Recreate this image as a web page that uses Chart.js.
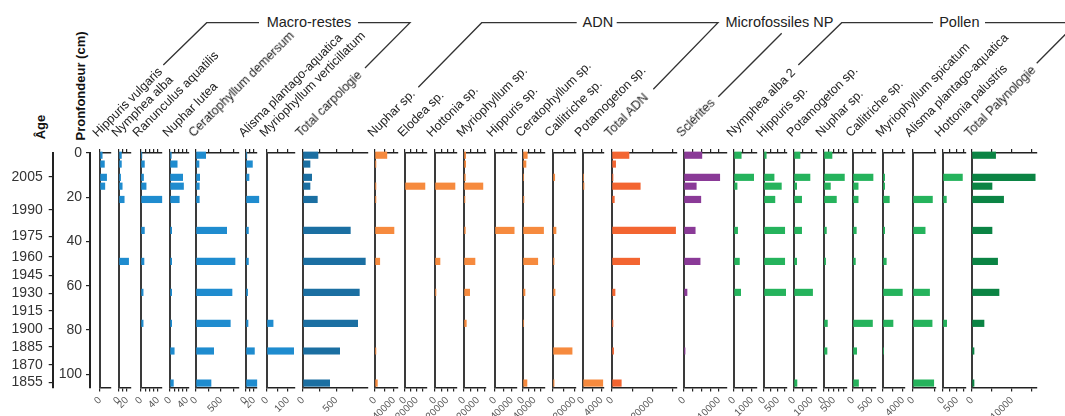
<!DOCTYPE html>
<html>
<head>
<meta charset="utf-8">
<script src="https://cdn.jsdelivr.net/npm/chart.js@4.4.0/dist/chart.umd.min.js"></script>
<style>
  body { margin: 0; background: #fff; }
  #wrap { position: relative; width: 1065px; height: 416px; overflow: hidden; background: #fff;
          font-family: 'Liberation Sans', Arial, sans-serif; color: #222; }
  #wrap canvas { position: absolute; }
  .taxon { position: absolute; font-size: 12.5px; line-height: 12px; white-space: nowrap;
           transform-origin: 0 100%; transform: rotate(-45deg); color: #222; }
  .axname { position: absolute; font-weight: bold; font-size: 13px; line-height: 14px; white-space: nowrap;
            transform: translate(-50%, -50%) rotate(-90deg); color: #111; }
  #brackets { position: absolute; left: 0; top: 0; }
</style>
</head>
<body>
<div id="wrap">
  <svg id="brackets" width="1065" height="416"></svg>
  <div class="axname" style="left:41px;top:127px">Âge</div>
  <div class="axname" style="left:81px;top:86px">Pronfondeur (cm)</div>
</div>
<script>
// sample depths (cm) shared by every panel
const depths = [1, 5, 11, 15, 21, 35, 49, 63, 77, 89.5, 104];
const depthTicks = [0, 20, 40, 60, 80, 100];
const ageLabels = ['2005', '1990', '1975', '1960', '1945', '1930', '1915', '1900', '1885', '1870', '1855'];
const ageDepths = [10.7, 25.8, 37.8, 46.9, 55.2, 63.4, 71.3, 79.6, 87.6, 95.7, 103.7];

// Macro-restes
const macroTaxa = ['Hippuris vulgaris', 'Nymphea alba', 'Ranunculus aquatilis', 'Nuphar lutea',
  'Ceratophyllum demersum', 'Alisma plantago-aquatica', 'Myriophyllum verticillatum', 'Total carpologie'];
const macroValues = [
  [1, 2, 3, 2.2, 0, 0, 0, 0, 0, 0, 0],
  [6, 6, 4, 8, 13, 0, 24, 0, 0, 0, 0],
  [2, 8, 6, 12, 49, 8, 7, 5, 5, 0, 0],
  [3, 17, 30, 32, 22, 4, 4, 4, 4, 10, 8],
  [194, 60, 74, 66, 66, 614, 780, 720, 686, 354, 300],
  [2, 16, 7.5, 0, 32, 6, 6, 4, 5, 21, 27],
  [0, 0, 0, 0, 0, 0, 0, 0, 29, 127, 0],
  [225, 105, 130, 105, 215, 710, 935, 845, 820, 550, 400]
];
const macroMax = [5, 28.5, 49.4, 45, 846, 26.7, 132, 975];
const macroStep = [10, 10, 10, 10, 250, 10, 50, 250];
const macroLabeled = [[0], [0, 20], [0, 40], [0, 40], [0, 500], [0, 20], [0, 100], [0, 500]];

// ADN
const adnTaxa = ['Nuphar sp.', 'Elodea sp.', 'Hottonia sp.', 'Myriophyllum sp.', 'Hippuris sp.',
  'Ceratophyllum sp.', 'Callitriche sp.', 'Potamogeton sp.', 'Total ADN'];
const adnValues = [
  [25000, 2000, 0, 2000, 2000, 40000, 10000, 0, 0, 2000, 5000],
  [0, 0, 0, 34000, 0, 0, 0, 0, 0, 0, 0],
  [0, 0, 0, 32500, 0, 0, 8100, 1600, 0, 0, 0],
  [2400, 2400, 1900, 27000, 1400, 1900, 15700, 8100, 3300, 0, 0],
  [0, 0, 0, 0, 0, 45500, 0, 0, 0, 0, 0],
  [14700, 10300, 2400, 0, 3400, 71000, 51000, 6900, 2400, 0, 13700],
  [0, 0, 1600, 0, 0, 2800, 1000, 1900, 0, 17800, 1000],
  [0, 0, 150, 220, 0, 0, 0, 0, 0, 0, 4300],
  [8400, 1800, 500, 14000, 1150, 31500, 13700, 1500, 500, 800, 4600]
];
const adnMax = [47000, 37000, 35300, 31000, 51000, 76000, 20800, 4560, 31900];
const adnStep = [20000, 10000, 10000, 10000, 20000, 20000, 10000, 2000, 10000];
const adnLabeled = [[0, 40000], [0, 20000], [0, 20000], [0, 20000], [0, 40000], [0, 40000], [0, 20000], [0, 4000], [0, 20000]];

// Microfossiles NP
const npTaxa = ['Sclérites'];
const npValues = [[5100, 0, 10200, 3500, 4800, 3200, 4600, 860, 0, 300, 0]];
const npMax = [12100];
const npStep = [2500];
const npLabeled = [[0, 10000]];

// Pollen
const pollenTaxa = ['Nymphea alba 2', 'Hippuris sp.', 'Potamogeton sp.', 'Nuphar sp.', 'Callitriche sp.',
  'Myriophyllum spicatum', 'Alisma plantago-aquatica', 'Hottonia palustris', 'Total Palynologie'];
const pollenValues = [
  [400, 0, 1090, 170, 0, 200, 300, 370, 0, 0, 0],
  [80, 0, 360, 620, 390, 740, 740, 775, 0, 0, 0],
  [345, 0, 920, 155, 440, 440, 155, 1070, 0, 0, 170],
  [400, 0, 1020, 320, 620, 120, 80, 0, 170, 150, 0],
  [0, 0, 545, 140, 140, 90, 65, 0, 530, 100, 150],
  [0, 0, 340, 340, 1270, 340, 660, 3870, 2000, 130, 0],
  [0, 0, 0, 0, 880, 550, 0, 750, 865, 0, 940],
  [0, 0, 690, 0, 120, 0, 0, 0, 130, 0, 0],
  [5900, 0, 15800, 5000, 7900, 5000, 6400, 6750, 3000, 500, 500]
];
const pollenMax = [1240, 800, 1290, 1110, 610, 4340, 1010, 800, 16100];
const pollenStep = [500, 250, 500, 250, 250, 2000, 1000, 250, 5000];
const pollenLabeled = [[0, 1000], [0, 500], [0, 1000], [0, 500], [0, 500], [0, 4000], [0], [0, 500], [0, 10000]];

// layout: left edge (px) and width (px) of each panel, in page order
const panelLeft = [100, 119.3, 140.7, 170.3, 196, 246, 267.3, 303.3,
  375, 405, 434.7, 464.3, 494.5, 523.3, 552.7, 582.5, 612.3,
  684.3,
  734.3, 764.3, 794, 823.5, 853.3, 883.3, 912.7, 942.5, 972.3];
const panelWidth = [11, 11.4, 21, 19, 42.3, 10.7, 27.7, 65,
  22.3, 21.7, 21.7, 21.7, 21.5, 22, 22.3, 21, 64.4,
  42.4,
  22.4, 22.4, 22.4, 22.2, 22.4, 21.7, 22.3, 22.5, 64.4];

const FONT = "'Liberation Sans', Arial, sans-serif";
Chart.defaults.font.family = FONT;
const wrap = document.getElementById('wrap');
const TOP = 130, H = 286, PAD = 30, DMAX = 106;

function addCanvas(left, width) {
  const cv = document.createElement('canvas');
  cv.width = width; cv.height = H;
  cv.style.left = left + 'px'; cv.style.top = TOP + 'px';
  cv.style.width = width + 'px'; cv.style.height = H + 'px';
  wrap.appendChild(cv);
  return cv;
}

function panel(name, vals, max, step, labeled, color, x0, w) {
  const cv = addCanvas(x0 - PAD, Math.round(w + 2 * PAD));
  const tickVals = [];
  for (let v = 0; v <= max; v += step) tickVals.push(v);
  const setTicks = s => { s.ticks = tickVals.map(v => ({ value: v })); };
  const axisLine = { color: '#222', width: 1.5 };
  new Chart(cv, {
    type: 'bar',
    data: {
      datasets: [{
        data: depths.map((d, i) => ({ x: vals[i], y: d })).filter(p => p.x > 0),
        backgroundColor: color,
        borderWidth: 0,
        barThickness: 6.5,
        clip: false
      }]
    },
    options: {
      indexAxis: 'y',
      responsive: false,
      animation: false,
      events: [],
      layout: { autoPadding: false, padding: { left: PAD, right: cv.width - PAD - w, top: 18, bottom: 0 } },
      plugins: { legend: { display: false }, tooltip: { enabled: false } },
      scales: {
        x: {
          type: 'linear', position: 'bottom', min: 0, max: max,
          afterBuildTicks: setTicks,
          grid: { drawOnChartArea: false, color: '#222', lineWidth: 1.2, tickLength: 4 },
          border: axisLine,
          ticks: {
            autoSkip: false, minRotation: 45, maxRotation: 45, padding: 3,
            color: '#555', font: { size: 10 },
            callback: v => labeled.includes(v) ? String(v) : ''
          },
          afterFit: s => { s.height = 28.5; s.paddingLeft = 0; s.paddingRight = 0; }
        },
        xt: {
          axis: 'x', type: 'linear', position: 'top', min: 0, max: max,
          afterBuildTicks: setTicks,
          grid: { drawOnChartArea: false, color: '#222', lineWidth: 1.2, tickLength: 4 },
          border: axisLine,
          ticks: { display: false },
          afterFit: s => { s.height = 5; s.paddingLeft = 0; s.paddingRight = 0; }
        },
        y: {
          type: 'linear', position: 'left', min: 0, max: DMAX, reverse: true, offset: false,
          grid: { display: false, drawTicks: false, offset: false },
          ticks: { display: false },
          border: { color: '#3a3a3a', width: 2 },
          afterFit: s => { s.width = 0; }
        }
      }
    }
  });
  const lab = document.createElement('div');
  lab.className = 'taxon';
  lab.textContent = name;
  lab.style.left = (x0 - 1.5) + 'px';
  lab.style.top = (139 - 12) + 'px';
  wrap.appendChild(lab);
}

function sideAxis(left, width, axisX, tickVals, labelFor, pad) {
  const cv = addCanvas(left, width);
  new Chart(cv, {
    type: 'line',
    data: { datasets: [] },
    options: {
      responsive: false, animation: false, events: [],
      layout: { autoPadding: false, padding: { left: 0, right: width - (axisX - left) - 2, top: 23, bottom: 28.5 } },
      plugins: { legend: { display: false }, tooltip: { enabled: false } },
      scales: {
        x: { display: false },
        y: {
          type: 'linear', position: 'left', min: 0, max: DMAX, reverse: true,
          afterBuildTicks: s => { s.ticks = tickVals.map(v => ({ value: v })); },
          grid: { drawOnChartArea: false, color: '#222', lineWidth: 1.2, tickLength: 4 },
          border: { color: '#222', width: 2 },
          ticks: { autoSkip: false, padding: pad, color: '#333', font: { size: 14 }, callback: labelFor },
          afterFit: s => { s.width = axisX - left; }
        }
      }
    }
  });
}

sideAxis(0, 62, 52.7, ageDepths, (v, i) => ageLabels[i], 6);
sideAxis(40, 60, 90, depthTicks, v => String(v), 4);

let k = 0;
macroTaxa.forEach((t, i) => {
  const col = i === macroTaxa.length - 1 ? '#1b6fa2' : '#1f8ccf';
  panel(t, macroValues[i], macroMax[i], macroStep[i], macroLabeled[i], col, panelLeft[k], panelWidth[k]); k++;
});
adnTaxa.forEach((t, i) => {
  const col = i === adnTaxa.length - 1 ? '#f36531' : '#f68a3e';
  panel(t, adnValues[i], adnMax[i], adnStep[i], adnLabeled[i], col, panelLeft[k], panelWidth[k]); k++;
});
npTaxa.forEach((t, i) => {
  panel(t, npValues[i], npMax[i], npStep[i], npLabeled[i], '#8a3a97', panelLeft[k], panelWidth[k]); k++;
});
pollenTaxa.forEach((t, i) => {
  const col = i === pollenTaxa.length - 1 ? '#0b8444' : '#25b35c';
  panel(t, pollenValues[i], pollenMax[i], pollenStep[i], pollenLabeled[i], col, panelLeft[k], panelWidth[k]); k++;
});

// group brackets
const svg = document.getElementById('brackets');
const NS = 'http://www.w3.org/2000/svg';
const bracketPaths = [
  'M163.3,65 L206.7,22.7 L259,22.7', 'M358,22.7 L410,22.7 L365,68',
  'M418.3,87.3 L481.7,22.7 L576.7,22.7', 'M616.7,22.7 L718,22.7 L653.3,89.3',
  'M718.3,96.7 L781.7,33.3',
  'M798.3,65 L841.7,22.7 L933,22.7', 'M985,22.7 L1077,22.7 L1036.7,63.3'
];
bracketPaths.forEach(d => {
  const p = document.createElementNS(NS, 'path');
  p.setAttribute('d', d);
  p.setAttribute('fill', 'none');
  p.setAttribute('stroke', '#333');
  p.setAttribute('stroke-width', '1.3');
  svg.appendChild(p);
});
const groupNames = ['Macro-restes', 'ADN', 'Microfossiles NP', 'Pollen'];
const groupCenter = [309, 597.8, 779.5, 959.3];
groupNames.forEach((g, i) => {
  const t = document.createElementNS(NS, 'text');
  t.setAttribute('x', groupCenter[i]);
  t.setAttribute('y', 27);
  t.setAttribute('text-anchor', 'middle');
  t.setAttribute('font-family', FONT);
  t.setAttribute('font-size', '14.5');
  t.setAttribute('fill', '#222');
  t.textContent = g;
  svg.appendChild(t);
});
</script>
</body>
</html>
